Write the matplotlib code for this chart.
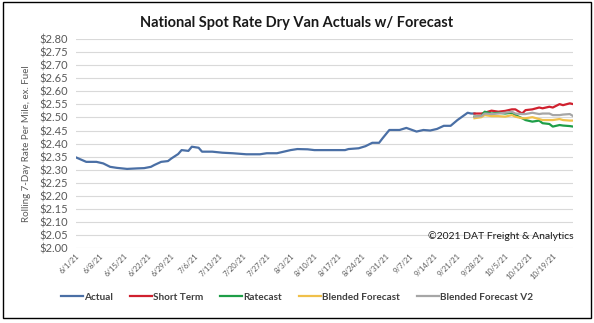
import datetime as dt
import numpy as np
import matplotlib
matplotlib.use("Agg")
import matplotlib.pyplot as plt
import matplotlib.dates as mdates
from matplotlib.patches import Rectangle

plt.rcParams["font.family"] = ["Lato", "DejaVu Sans"]

start = dt.date(2021, 6, 1)

# Actual rolling 7-day rate, (day offset from 6/1, $ per mile)
actual_days = [0, 3, 6, 8, 10, 12, 15, 18, 20, 22, 23, 25, 27, 28, 30, 31, 33, 34,
               36, 37, 40, 43, 46, 50, 54, 56, 59, 61, 63, 65, 68, 70, 79, 80, 83,
               85, 87, 89, 90, 92, 95, 97, 100, 102, 104, 106, 108, 110, 112, 115,
               116, 117]
actual_vals = [2.347, 2.330, 2.330, 2.324, 2.311, 2.307, 2.303, 2.305, 2.306, 2.311,
               2.318, 2.330, 2.333, 2.343, 2.360, 2.375, 2.372, 2.388, 2.384, 2.369,
               2.369, 2.365, 2.363, 2.359, 2.359, 2.363, 2.363, 2.369, 2.375, 2.379,
               2.378, 2.375, 2.375, 2.379, 2.382, 2.390, 2.403, 2.403, 2.420, 2.452,
               2.452, 2.460, 2.446, 2.452, 2.450, 2.456, 2.468, 2.468, 2.490, 2.518,
               2.515, 2.515]

# Forecast series share the same day offsets
fc_days = [117, 119, 120, 122, 124, 126, 128, 129, 131, 132, 134, 136, 137, 139,
           140, 142, 143, 145, 146]
short_term = [2.515, 2.515, 2.518, 2.526, 2.522, 2.525, 2.531, 2.531, 2.515, 2.528,
              2.531, 2.538, 2.535, 2.541, 2.538, 2.551, 2.547, 2.554, 2.551]
ratecast = [2.503, 2.505, 2.522, 2.515, 2.518, 2.515, 2.518, 2.509, 2.497, 2.490,
            2.484, 2.488, 2.478, 2.475, 2.465, 2.471, 2.469, 2.467, 2.465]
blended = [2.497, 2.501, 2.509, 2.505, 2.505, 2.503, 2.509, 2.503, 2.497, 2.497,
           2.501, 2.494, 2.490, 2.490, 2.490, 2.494, 2.490, 2.488, 2.488]
blended_v2 = [2.503, 2.505, 2.515, 2.513, 2.515, 2.518, 2.522, 2.515, 2.513, 2.513,
              2.518, 2.513, 2.515, 2.515, 2.509, 2.509, 2.511, 2.513, 2.505]

y_ticks = np.arange(2.00, 2.801, 0.05)


def to_dates(days):
    return [start + dt.timedelta(days=d) for d in days]


fig = plt.figure(figsize=(5.94, 3.23), dpi=100)
ax = fig.add_axes([0.128, 0.232, 0.837, 0.647])

ax.plot(to_dates(actual_days), actual_vals, color="#4A6FA5", lw=1.6, label="Actual")
ax.plot(to_dates(fc_days), short_term, color="#D0202E", lw=1.6, label="Short Term")
ax.plot(to_dates(fc_days), ratecast, color="#1E9E48", lw=1.6, label="Ratecast")
ax.plot(to_dates(fc_days), blended, color="#F0C04A", lw=1.6, label="Blended Forecast")
ax.plot(to_dates(fc_days), blended_v2, color="#A6A6A6", lw=1.6, label="Blended Forecast V2")

ax.set_ylim(2.00, 2.80)
ax.set_yticks(y_ticks)
ax.set_yticklabels([f"${v:.2f}" for v in y_ticks])
ax.set_xlim(start, start + dt.timedelta(days=146))
week_ticks = to_dates(range(0, 141, 7))
ax.set_xticks(week_ticks)
ax.xaxis.set_major_formatter(mdates.DateFormatter("%-m/%-d/%y"))

ax.grid(axis="y", color="#D9D9D9", lw=0.8)
ax.set_axisbelow(True)
for s in ax.spines.values():
    s.set_visible(False)
ax.tick_params(length=0)
ax.tick_params(axis="y", labelsize=8, labelcolor="#595959", pad=6)
ax.tick_params(axis="x", labelsize=5.5, labelcolor="#595959", pad=3)
for lbl in ax.get_xticklabels():
    lbl.set_rotation(45)
    lbl.set_ha("right")
    lbl.set_rotation_mode("anchor")

ax.set_ylabel("Rolling 7-Day Rate Per Mile, ex. Fuel", fontsize=7, color="#595959",
              labelpad=6)
ax.text(1.0, 0.035, "\u00a92021 DAT Freight & Analytics", transform=ax.transAxes,
        ha="right", va="bottom", fontsize=7.5, color="#1a1a1a")

fig.text(0.5, 0.93, "National Spot Rate Dry Van Actuals w/ Forecast", ha="center",
         va="center", fontsize=10.5, fontweight="bold", color="#1a1a1a")

fig.legend(loc="center", bbox_to_anchor=(0.5, 0.08), ncol=5, frameon=False,
           handlelength=2.2, handletextpad=0.1, columnspacing=1.7,
           labelcolor="#404040", prop={"weight": "bold", "size": 7.2})

fig.patches.append(Rectangle((0.005, 0.015), 0.99, 0.978, transform=fig.transFigure,
                             fill=False, edgecolor="black", lw=1))

fig.savefig("out.png", dpi=100)
